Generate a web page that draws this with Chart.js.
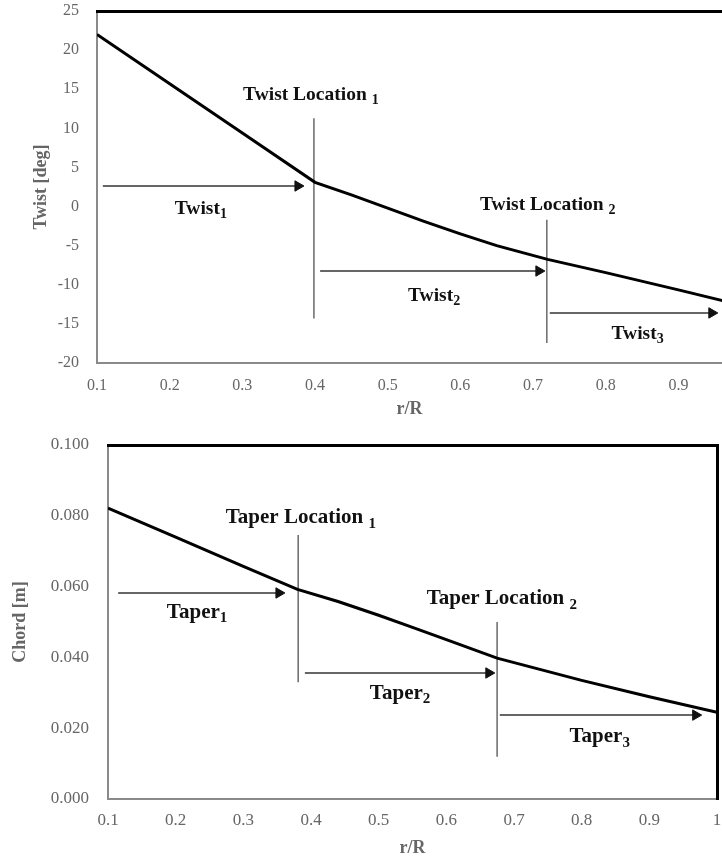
<!DOCTYPE html>
<html>
<head>
<meta charset="utf-8">
<script src="https://cdn.jsdelivr.net/npm/chart.js@4.4.1/dist/chart.umd.min.js"></script>
<style>
  body { margin: 0; background: #fff; }
  canvas { display: block; }
</style>
</head>
<body>
<canvas id="twistChart" width="722" height="420"></canvas>
<canvas id="chordChart" width="722" height="442"></canvas>
<script>
// top chart: twist distribution
const twistR = [0.1, 0.2, 0.3, 0.4, 0.45, 0.5, 0.55, 0.6, 0.65, 0.72, 0.8, 0.9, 1.0];
const twistDeg = [22, 15.7, 9.4, 3.1, 1.5, -0.2, -1.9, -3.5, -5.0, -6.75, -8.45, -10.65, -12.9];
const twistYTicks = [-20, -15, -10, -5, 0, 5, 10, 15, 20, 25];
const twistXTicks = [0.1, 0.2, 0.3, 0.4, 0.5, 0.6, 0.7, 0.8, 0.9];

// bottom chart: chord distribution
const chordR = [0.1, 0.2, 0.3, 0.38, 0.44, 0.5, 0.55, 0.6, 0.675, 0.8, 0.9, 1.0];
const chordM = [0.0822, 0.0740, 0.0657, 0.0592, 0.0558, 0.0519, 0.0485, 0.0450, 0.0398, 0.0335, 0.0289, 0.0245];
const chordYTicks = [0, 0.02, 0.04, 0.06, 0.08, 0.1];
const chordXTicks = [0.1, 0.2, 0.3, 0.4, 0.5, 0.6, 0.7, 0.8, 0.9, 1.0];

// annotation marks, in data units
// arrows: [xStart, xHead, y]   lines: [x, yTop, yBottom]
const twistArrows = [[0.108, 0.3765, 2.63], [0.407, 0.708, -8.24], [0.723, 0.946, -13.6]];
const twistLines = [[0.3985, 11.3, -14.3], [0.719, -1.7, -17.45]];
const twistLabels = [
  { text: "Twist Location ", sub: "1", x: 0.301, y: 14.26 },
  { text: "Twist", sub: "1", x: 0.207, y: -0.3 },
  { text: "Twist Location ", sub: "2", x: 0.627, y: 0.2 },
  { text: "Twist", sub: "2", x: 0.528, y: -11.44 },
  { text: "Twist", sub: "3", x: 0.808, y: -16.3 }
];

const chordArrows = [[0.115, 0.3526, 0.0582], [0.391, 0.6628, 0.0356], [0.679, 0.9685, 0.0237]];
const chordLines = [[0.381, 0.0746, 0.033], [0.675, 0.05, 0.0119]];
const chordLabels = [
  { text: "Taper Location ", sub: "1", x: 0.274, y: 0.0794 },
  { text: "Taper", sub: "1", x: 0.187, y: 0.0528 },
  { text: "Taper Location ", sub: "2", x: 0.571, y: 0.0565 },
  { text: "Taper", sub: "2", x: 0.487, y: 0.0299 },
  { text: "Taper", sub: "3", x: 0.782, y: 0.0175 }
];

const SERIF = "'Liberation Serif', 'Times New Roman', serif";
const TICK_GREY = "#666";
const AXIS_GREY = "#8a8a8a";
const MARK_COLOR = "#333";

const markLabels = {
  id: "markLabels",
  afterDatasetsDraw(chart, args, opts) {
    const ctx = chart.ctx;
    const xs = chart.scales.x;
    const ys = chart.scales.y;
    ctx.save();
    ctx.fillStyle = "#111";
    ctx.textBaseline = "middle";
    ctx.textAlign = "left";
    opts.items.forEach(item => {
      const px = xs.getPixelForValue(item.x);
      const py = ys.getPixelForValue(item.y);
      ctx.font = `bold ${opts.size}px ${SERIF}`;
      ctx.fillText(item.text, px, py);
      const w = ctx.measureText(item.text).width;
      ctx.font = `bold ${Math.round(opts.size * 0.7)}px ${SERIF}`;
      ctx.fillText(item.sub, px + w, py + opts.size * 0.28);
    });
    ctx.restore();
  }
};

function buildDatasets(xs, ys, arrows, lines) {
  const sets = [{
    data: xs.map((x, i) => ({ x: x, y: ys[i] })),
    borderColor: "#000",
    borderWidth: 3,
    pointRadius: 0,
    tension: 0
  }];
  arrows.forEach(a => {
    sets.push({
      data: [{ x: a[0], y: a[2] }, { x: a[1], y: a[2] }],
      borderColor: MARK_COLOR,
      borderWidth: 1.5,
      pointRadius: [0, 6],
      pointStyle: "triangle",
      pointRotation: 90,
      pointBackgroundColor: "#111",
      pointBorderColor: "#111",
      pointBorderWidth: 1
    });
  });
  lines.forEach(l => {
    sets.push({
      data: [{ x: l[0], y: l[1] }, { x: l[0], y: l[2] }],
      borderColor: "#444",
      borderWidth: 1.2,
      pointRadius: 0
    });
  });
  return sets;
}

// drop the label overflow padding so the plot box lands where it should
function noPad(s) {
  s.paddingTop = 0;
  s.paddingBottom = 0;
  s.paddingLeft = 0;
  s.paddingRight = 0;
}

function makeChart(id, cfg) {
  const tickFont = { family: SERIF, size: cfg.tickSize };
  const titleFont = { family: SERIF, size: 18, weight: "bold" };
  const scales = {
    x: {
      type: "linear",
      min: cfg.xMin,
      max: cfg.xMax,
      grid: { display: false, drawTicks: false },
      border: { color: AXIS_GREY, width: 2 },
      afterBuildTicks: s => { s.ticks = cfg.xTicks.map(v => ({ value: v })); },
      afterFit: s => { s.height = cfg.xHeight; noPad(s); },
      ticks: { font: tickFont, color: TICK_GREY, padding: cfg.xPad, maxRotation: 0, callback: cfg.xFmt },
      title: { display: true, text: "r/R", font: titleFont, color: TICK_GREY, padding: { top: 0, bottom: cfg.xTitlePad } }
    },
    y: {
      type: "linear",
      min: cfg.yMin,
      max: cfg.yMax,
      grid: { display: false, drawTicks: false },
      border: { color: AXIS_GREY, width: 2 },
      afterBuildTicks: s => { s.ticks = cfg.yTicks.map(v => ({ value: v })); },
      afterFit: s => { s.width = cfg.yWidth; noPad(s); },
      ticks: { font: tickFont, color: TICK_GREY, padding: cfg.yPad, callback: cfg.yFmt },
      title: { display: true, text: cfg.yTitle, font: titleFont, color: TICK_GREY, padding: { top: cfg.yTitlePad, bottom: 0 } }
    },
    xTop: {
      type: "linear",
      position: "top",
      min: cfg.xMin,
      max: cfg.xMax,
      grid: { display: false, drawTicks: false },
      ticks: { display: false },
      border: { color: "#000", width: 3 },
      afterFit: s => { s.height = 0; noPad(s); }
    }
  };
  if (cfg.rightBorder) {
    scales.yRight = {
      type: "linear",
      position: "right",
      min: cfg.yMin,
      max: cfg.yMax,
      grid: { display: false, drawTicks: false },
      ticks: { display: false },
      border: { color: "#000", width: 3 },
      afterFit: s => { s.width = 0; noPad(s); }
    };
  }
  return new Chart(document.getElementById(id), {
    type: "line",
    data: { datasets: cfg.datasets },
    options: {
      responsive: false,
      animation: false,
      layout: { padding: cfg.padding, autoPadding: false },
      plugins: {
        legend: { display: false },
        tooltip: { enabled: false },
        markLabels: { items: cfg.labels, size: cfg.labelSize }
      },
      scales: scales
    },
    plugins: [markLabels]
  });
}

makeChart("twistChart", {
  datasets: buildDatasets(twistR, twistDeg, twistArrows, twistLines),
  labels: twistLabels,
  labelSize: 19.5,
  tickSize: 16,
  xMin: 0.1, xMax: 0.96, xTicks: twistXTicks,
  yMin: -20, yMax: 25, yTicks: twistYTicks,
  xFmt: v => v.toFixed(1),
  yFmt: v => String(v),
  yTitle: "Twist [deg]",
  xHeight: 57, yWidth: 97,
  xPad: 13, yPad: 18,
  xTitlePad: 0, yTitlePad: 31,
  padding: { top: 11, right: 0, bottom: 0, left: 0 },
  rightBorder: false
});

makeChart("chordChart", {
  datasets: buildDatasets(chordR, chordM, chordArrows, chordLines),
  labels: chordLabels,
  labelSize: 21,
  tickSize: 17,
  xMin: 0.1, xMax: 1.0, xTicks: chordXTicks,
  yMin: 0, yMax: 0.1, yTicks: chordYTicks,
  xFmt: v => (v === 1 ? "1" : v.toFixed(1)),
  yFmt: v => v.toFixed(3),
  yTitle: "Chord [m]",
  xHeight: 63, yWidth: 108,
  xPad: 11, yPad: 19,
  xTitlePad: 3, yTitlePad: 10,
  padding: { top: 25, right: 5, bottom: 0, left: 0 },
  rightBorder: true
});
</script>
</body>
</html>
